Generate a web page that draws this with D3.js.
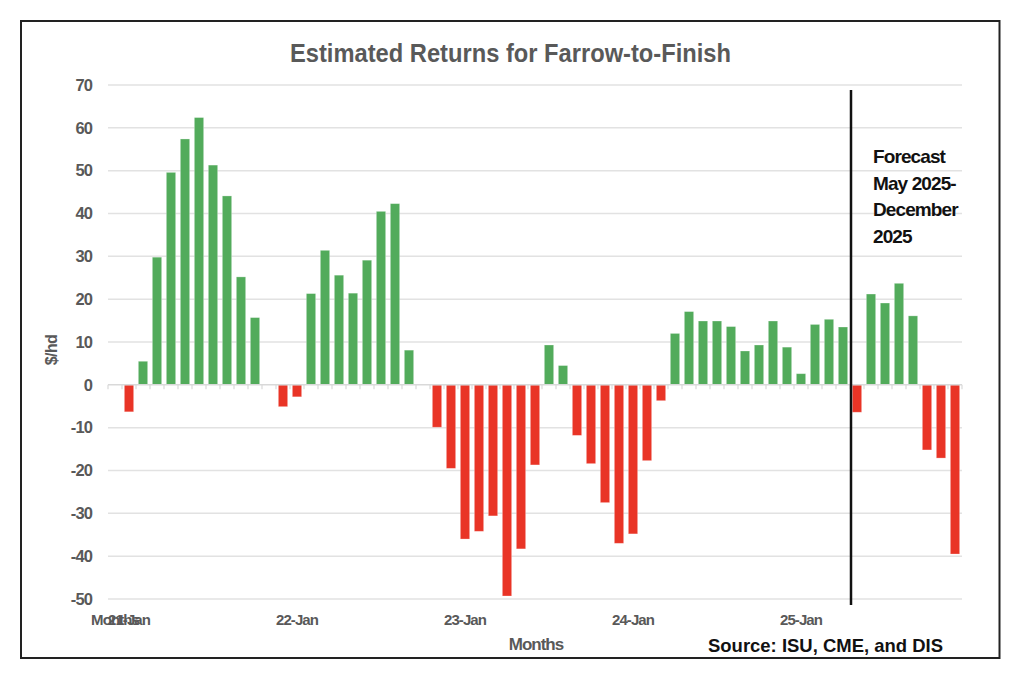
<!DOCTYPE html>
<html>
<head>
<meta charset="utf-8">
<script src="https://cdn.jsdelivr.net/npm/d3@7"></script>
<style>
  html, body { margin: 0; padding: 0; background: #ffffff; }
  svg { display: block; font-family: "Liberation Sans", Arial, Helvetica, sans-serif; }
</style>
</head>
<body>
<svg id="chart" width="1024" height="682"></svg>
<script>
// ---------------- data ----------------
const years = ["21", "22", "23", "24", "25"];
const monthNames = ["Jan","Feb","Mar","Apr","May","Jun","Jul","Aug","Sep","Oct","Nov","Dec"];
const headerCategory = "Months";
const categories = [headerCategory].concat(
  years.flatMap(y => monthNames.map(m => y + "-" + m))
);
// $/hd estimated returns (index 0 = header row, no value)
const returns = [
  null,
  -6.3, 5.5, 29.8, 49.6, 57.4, 62.4, 51.3, 44.1, 25.2, 15.7, 0, -5.1,
  -2.8, 21.3, 31.4, 25.6, 21.4, 29.1, 40.5, 42.3, 8.1, 0, -9.9, -19.5,
  -36.0, -34.2, -30.6, -49.3, -38.3, -18.7, 9.3, 4.5, -11.8, -18.4, -27.5, -37.0,
  -34.8, -17.7, -3.7, 12.0, 17.1, 14.9, 14.9, 13.6, 7.9, 9.3, 14.9, 8.8,
  2.6, 14.1, 15.3, 13.5, -6.4, 21.2, 19.1, 23.7, 16.1, -15.2, -17.1, -39.5
];
const xTickLabels = ["Months", "21-Jan", "22-Jan", "23-Jan", "24-Jan", "25-Jan"];
const yTicks = [-50, -40, -30, -20, -10, 0, 10, 20, 30, 40, 50, 60, 70];
const forecastStart = "25-May";
const forecastText = ["Forecast", "May 2025-", "December", "2025"];
const titleText = "Estimated Returns for Farrow-to-Finish";
const yTitle = "$/hd";
const xTitle = "Months";
const sourceText = "Source: ISU, CME, and DIS";

// ---------------- layout ----------------
const svg = d3.select("#chart");
const plot = { left: 108, right: 962, top: 85, bottom: 599 };
const GREEN = "#52ab5b", RED = "#e93426", GRAY = "#595959";

const x = d3.scaleBand().domain(categories).range([plot.left, plot.right]).paddingInner(0.335).paddingOuter(0.1675);
const y = d3.scaleLinear().domain([-50, 70]).range([plot.bottom, plot.top]);

// frame
svg.append("rect").attr("x", 21).attr("y", 21).attr("width", 978.5).attr("height", 637)
  .attr("fill", "none").attr("stroke", "#222").attr("stroke-width", 2);

// title
svg.append("text").attr("x", 510.5).attr("y", 62).attr("text-anchor", "middle")
  .attr("font-size", 26).attr("font-weight", "bold").attr("fill", GRAY)
  .attr("textLength", 441).attr("lengthAdjust", "spacingAndGlyphs")
  .text(titleText);

// gridlines
svg.append("g").selectAll("line").data(yTicks.filter(d => d !== 0)).join("line")
  .attr("x1", plot.left).attr("x2", plot.right)
  .attr("y1", d => y(d)).attr("y2", d => y(d))
  .attr("stroke", "#e2e2e2").attr("stroke-width", 1.5);

// y axis labels
const yAxis = d3.axisLeft(y).tickValues(yTicks).tickFormat(d => String(d)).tickSize(0).tickPadding(0);
const gy = svg.append("g").attr("transform", "translate(92,0)").call(yAxis);
gy.select(".domain").remove();
gy.selectAll("text").attr("font-size", 16.5).attr("font-weight", "bold").attr("fill", GRAY)
  .attr("font-family", "Liberation Sans, Arial, sans-serif").attr("letter-spacing", -0.9);

// y title
svg.append("text").attr("transform", "translate(57,350) rotate(-90)")
  .attr("text-anchor", "middle").attr("font-size", 16).attr("font-weight", "bold")
  .attr("fill", GRAY).attr("letter-spacing", -0.6).text(yTitle);

// bars
const data = categories.map((c, i) => ({ c, v: returns[i] })).filter(d => d.v !== null && d.v !== 0);
svg.append("g").selectAll("rect").data(data).join("rect")
  .attr("x", d => x(d.c))
  .attr("width", x.bandwidth())
  .attr("y", d => y(Math.max(0, d.v)))
  .attr("height", d => Math.abs(y(d.v) - y(0)))
  .attr("fill", d => d.v >= 0 ? GREEN : RED)
  .attr("stroke", "rgba(255,255,255,0.35)").attr("stroke-width", 0.8);

// zero axis with tick marks at band boundaries
const step = x.step();
const boundaries = categories.map((c, i) => plot.left + i * step).concat([plot.right]);
svg.append("line").attr("x1", plot.left).attr("x2", plot.right)
  .attr("y1", y(0)).attr("y2", y(0)).attr("stroke", "#d9d9d9").attr("stroke-width", 1.5);
svg.append("g").selectAll("line").data(boundaries).join("line")
  .attr("x1", d => d).attr("x2", d => d)
  .attr("y1", y(0)).attr("y2", y(0) + 4.5)
  .attr("stroke", "#d9d9d9").attr("stroke-width", 1.2);

// x tick labels
const xAxis = d3.axisBottom(x).tickValues(xTickLabels).tickSize(0).tickPadding(0);
const gx = svg.append("g").attr("transform", "translate(0,614)").call(xAxis);
gx.select(".domain").remove();
gx.selectAll("text").attr("dy", "0.71em").attr("font-size", 15).attr("font-weight", "bold")
  .attr("fill", GRAY).attr("font-family", "Liberation Sans, Arial, sans-serif")
  .attr("letter-spacing", -0.9);

// x title
svg.append("text").attr("x", 536).attr("y", 650).attr("text-anchor", "middle")
  .attr("font-size", 17).attr("font-weight", "bold").attr("fill", GRAY)
  .attr("letter-spacing", -1).text(xTitle);

// forecast divider
const fx = x(forecastStart) - (step - x.bandwidth()) / 2 + 1;
svg.append("line").attr("x1", fx).attr("x2", fx).attr("y1", 90).attr("y2", 605)
  .attr("stroke", "#111").attr("stroke-width", 2.5);

// forecast label
svg.append("g").selectAll("text").data(forecastText).join("text")
  .attr("x", 873).attr("y", (d, i) => 163 + i * 26.7)
  .attr("font-size", 19).attr("font-weight", "bold").attr("fill", "#111")
  .attr("letter-spacing", -0.9).text(d => d);

// source
svg.append("text").attr("x", 708).attr("y", 652)
  .attr("font-size", 19).attr("font-weight", "bold").attr("fill", "#111")
  .attr("textLength", 235).attr("lengthAdjust", "spacingAndGlyphs")
  .text(sourceText);
</script>
</body>
</html>
